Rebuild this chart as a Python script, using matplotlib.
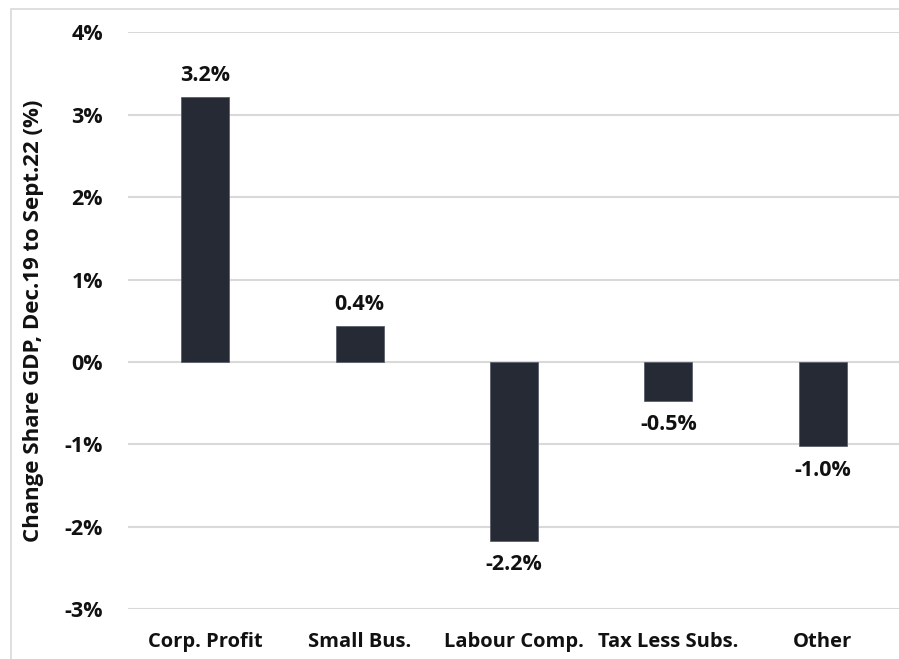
import matplotlib.pyplot as plt
import matplotlib.patches as patches
from matplotlib.ticker import FuncFormatter

plt.rcParams['font.family'] = ['Open Sans', 'DejaVu Sans']
plt.rcParams['font.weight'] = 'bold'

categories = ['Corp. Profit', 'Small Bus.', 'Labour Comp.', 'Tax Less Subs.', 'Other']
change_share = [3.22, 0.44, -2.17, -0.47, -1.02]
y_ticks = [-3, -2, -1, 0, 1, 2, 3, 4]

bar_color = '#262a35'
grid_color = '#d9d9d9'
txt_color = '#111111'

fig = plt.figure(figsize=(8.99, 6.59), dpi=100)
ax = fig.add_axes([128 / 899, 1 - 609.3 / 659, 772 / 899, 577 / 659])

x = range(len(categories))
bars = ax.bar(x, change_share, width=0.31, color=bar_color,
              edgecolor='#5a5f6a', linewidth=0.6, zorder=3)

# value labels above positive bars, below negative ones
for b, v in zip(bars, change_share):
    off = 21 if v >= 0 else -24
    ax.annotate('%.1f%%' % v, (b.get_x() + b.get_width() / 2, v),
                xytext=(0, off), textcoords='offset pixels',
                ha='center', va='center', fontsize=15.5,
                fontweight='bold', color=txt_color)

ax.set_xlim(-0.5, 4.5)
ax.set_ylim(-3, 4)
ax.set_yticks(y_ticks)
ax.yaxis.set_major_formatter(FuncFormatter(lambda v, p: '%d%%' % v))
ax.set_xticks(list(x))
ax.set_xticklabels(categories)
ax.tick_params(axis='both', length=0, colors=txt_color)
ax.tick_params(axis='y', pad=18, labelsize=15.5)
ax.tick_params(axis='x', pad=16, labelsize=14.5)
for lbl in ax.get_xticklabels() + ax.get_yticklabels():
    lbl.set_fontweight('bold')

ax.grid(axis='y', color=grid_color, linewidth=1.5, zorder=0)
for s in ax.spines.values():
    s.set_visible(False)

ax.set_ylabel('Change Share GDP, Dec.19 to Sept.22 (%)', fontsize=16,
              fontweight='bold', color=txt_color)
ax.yaxis.set_label_coords(-84 / 772, 0.5)

# light outer frame
fig.patches.append(patches.Rectangle((11 / 899, -0.1), 1.2, 1 - 9 / 659 + 0.1,
                                     transform=fig.transFigure, fill=False,
                                     edgecolor=grid_color, linewidth=1.2))

fig.savefig('out.png', dpi=100)
